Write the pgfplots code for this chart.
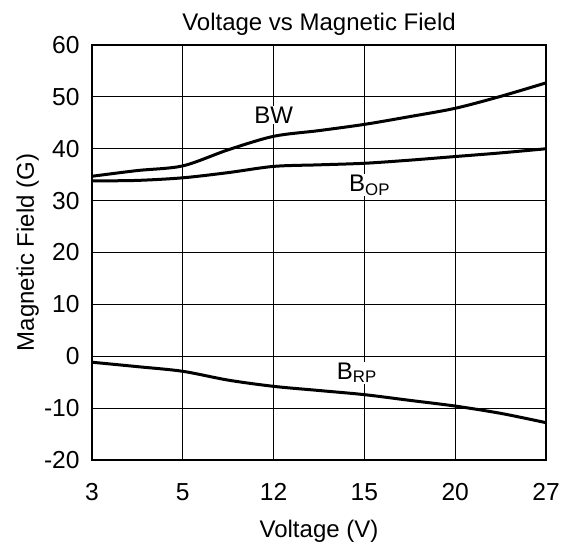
\documentclass[border=0pt]{standalone}
\usepackage{pgfplots}
\pgfplotsset{compat=1.18}
\usepackage{fontspec}
\setmainfont{Liberation Sans}
\begin{document}
\begin{tikzpicture}
\begin{axis}[
  scale only axis,
  width=227bp, height=207.5bp,
  xmin=0, xmax=5, ymin=-20, ymax=60,
  xtick={0,1,2,3,4,5},
  xticklabels={3,5,12,15,20,27},
  ytick={-20,-10,0,10,20,30,40,50,60},
  /pgf/number format/assume math mode=true,
  major tick length=0pt,
  grid=major,
  major grid style={black, line width=0.5bp},
  axis line style={black, line width=1bp},
  ticklabel style={font=\fontsize{12.3bp}{14bp}\selectfont, inner sep=0pt},
  yticklabel style={anchor=east, xshift=-6bp},
  xticklabel style={anchor=north, yshift=-11.5bp},
  every axis title shift=0pt,
  title={Voltage vs Magnetic Field},
  title style={font=\fontsize{12bp}{14bp}\selectfont, inner sep=0pt, at={([yshift=7.5bp]axis description cs:0.5,1)}, anchor=base},
  xlabel={Voltage (V)},
  xlabel style={font=\fontsize{12bp}{14bp}\selectfont, inner sep=0pt, at={([yshift=-38.5bp]axis description cs:0.5,0)}, anchor=base},
  ylabel={Magnetic Field (G)},
  ylabel style={font=\fontsize{12bp}{14bp}\selectfont, inner sep=0pt, at={([xshift=-29bp]axis description cs:0,0.5)}, anchor=base, rotate=0},
  clip=false,
]
\addplot[black, line width=1.5bp, smooth, tension=0.5] coordinates {
 (0,34.7) (0.5,35.8) (1,36.7) (1.5,39.8) (2,42.4) (2.5,43.5) (3,44.7) (3.5,46.2) (4,47.8) (4.5,50.1) (5,52.7)};
\addplot[black, line width=1.5bp, smooth, tension=0.5] coordinates {
 (0,33.8) (0.5,33.9) (1,34.4) (1.5,35.4) (2,36.6) (2.5,36.9) (3,37.2) (3.5,37.8) (4,38.5) (4.5,39.2) (5,40.0)};
\addplot[black, line width=1.5bp, smooth, tension=0.5] coordinates {
 (0,-1.15) (0.5,-2.0) (1,-2.9) (1.5,-4.6) (2,-5.8) (2.5,-6.6) (3,-7.4) (3.5,-8.5) (4,-9.6) (4.5,-11) (5,-12.8)};
\node[font=\fontsize{12bp}{14bp}\selectfont, fill=white, inner sep=0.5bp] at (axis cs:2.0,46.5) {BW};
\node[font=\fontsize{12bp}{14bp}\selectfont, fill=white, inner sep=0.5bp] at (axis cs:3.06,33.0) {B\textsubscript{OP}};
\node[font=\fontsize{12bp}{14bp}\selectfont, fill=white, inner sep=0.5bp] at (axis cs:2.92,-3.2) {B\textsubscript{RP}};
\coordinate (ll) at (rel axis cs:0,0);
\coordinate (ur) at (rel axis cs:1,1);
\end{axis}
\pgfresetboundingbox
\path ([xshift=-46bp,yshift=-40.5bp]ll) rectangle ([xshift=12.5bp,yshift=22.5bp]ur);
\end{tikzpicture}
\end{document}
